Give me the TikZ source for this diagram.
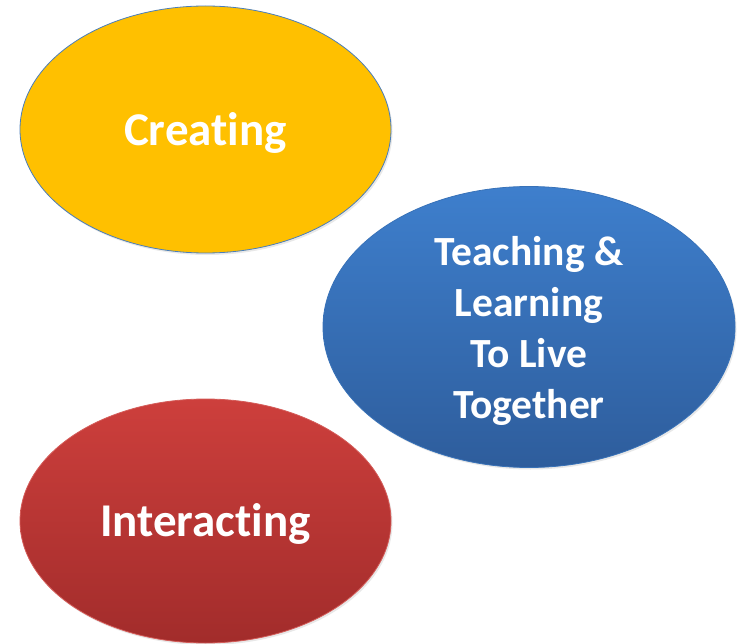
\documentclass[tikz,border=0pt]{standalone}
\usepackage{fontspec}
\setmainfont{Carlito}[Ligatures=NoCommon]
\usetikzlibrary{shapes.geometric, shadows}
\definecolor{gold}{HTML}{FFC000}
\definecolor{rimblue}{HTML}{4A7EBB}
\definecolor{bluetop}{HTML}{3E7FCD}
\definecolor{bluebot}{HTML}{2E5D9C}
\definecolor{redtop}{HTML}{CD3F3C}
\definecolor{redbot}{HTML}{A22C2B}

\begin{document}
\begin{tikzpicture}[x=1pt, y=-1pt, inner sep=0pt,
    blob/.style = {ellipse, draw=rimblue, line width=0.8pt,
                   drop shadow={shadow xshift=1.5pt, shadow yshift=-2pt, opacity=0.18}},
    word/.style = {text=white, align=center, font=\fontsize{47}{50}\bfseries}]
           \useasboundingbox (0,0) rectangle (738,644);
           \node[blob, fill=gold, minimum width=371pt, minimum height=247pt] (creating) at (205.5,129.5) {};
           \node[blob, draw=bluetop!90!black, top color=bluetop, bottom color=bluebot,
                 minimum width=412pt, minimum height=281pt] (teaching) at (529,327) {};
           \node[blob, draw=redtop!85!white, top color=redtop, bottom color=redbot,
                 minimum width=371pt, minimum height=244pt] (interacting) at (205.5,521) {};

           \node[word] (creatinglabel) at ([yshift=-3.5pt]creating.center) {Creating};
           \node[word, font=\fontsize{41.5}{51}\bfseries] (teachinglabel) at ([yshift=-4pt]teaching.center)
                 {Teaching \&\\Learning\\To Live\\Together};
           \node[word] (interactinglabel) at ([yshift=-3pt]interacting.center) {Interacting};
\end{tikzpicture}
\end{document}
